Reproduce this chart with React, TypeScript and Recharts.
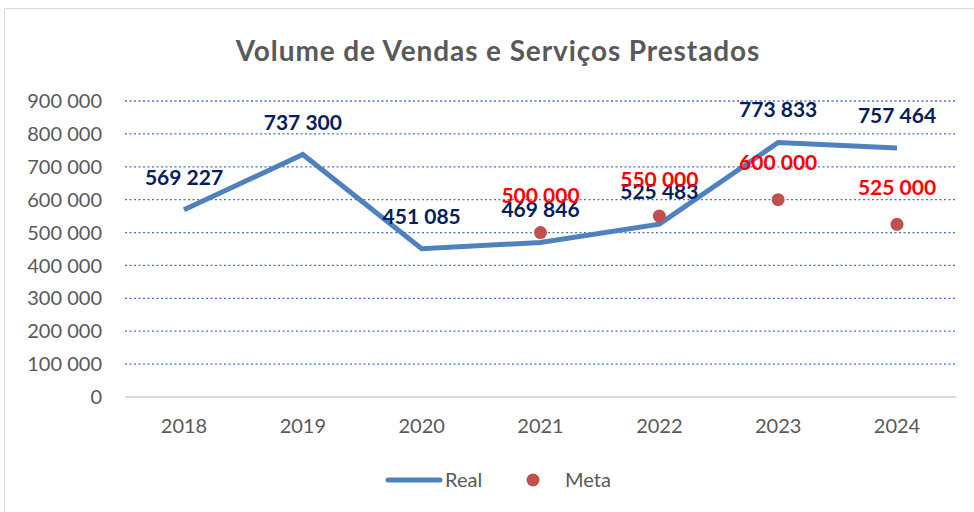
import { CartesianGrid, ComposedChart, LabelList, Line, Scatter, XAxis, YAxis } from 'recharts';

const years = ['2018', '2019', '2020', '2021', '2022', '2023', '2024'];
const real = [569227, 737300, 451085, 469846, 525483, 773833, 757464];
const meta = [null, null, null, 500000, 550000, 600000, 525000];
const yTicks = [0, 100000, 200000, 300000, 400000, 500000, 600000, 700000, 800000, 900000];

const FONT = 'Lato, "Open Sans", sans-serif';

const fmt = (v: number) => String(v).replace(/\B(?=(\d{3})+(?!\d))/g, ' ');

const chartData = years.map((year, i) => ({ year, real: real[i], meta: meta[i] }));

const dot = (props: any) => {
  const { cx, cy } = props;
  if (cx == null || cy == null) return <g />;
  return <circle cx={cx} cy={cy} r={6.5} fill="#c0504d" />;
};

// draws a value label above a point without text wrapping
const topLabel = (color: string) => (props: any) => {
  const { x, y, width, value } = props;
  if (value == null || x == null || y == null) return null;
  const cx = x + (width || 0) / 2;
  return (
    <text
      x={cx}
      y={y - 25}
      textAnchor="middle"
      fill={color}
      fontSize={21}
      fontWeight="bold"
      fontFamily={FONT}
    >
      {fmt(value)}
    </text>
  );
};

const tickStyle = { fill: '#595959', fontSize: 20, fontFamily: FONT };

export default function App() {
  return (
    <div style={{ position: 'absolute', left: 0, top: 0, width: 974, height: 512, background: '#fff', overflow: 'hidden' }}>
      <div style={{ position: 'absolute', left: 4, top: 8, width: 990, height: 520, border: '1px solid #d9d9d9', boxSizing: 'border-box' }} />
      <div
        style={{
          position: 'absolute',
          left: 0,
          top: 30,
          width: 996,
          textAlign: 'center',
          fontFamily: FONT,
          fontWeight: 'bold',
          fontSize: 28,
          letterSpacing: 0.9,
          lineHeight: '40px',
          color: '#595959',
        }}
      >
        Volume de Vendas e Serviços Prestados
      </div>
      <div style={{ position: 'absolute', left: 0, top: 0 }}>
        <ComposedChart width={974} height={512} data={chartData} margin={{ top: 101, right: 18, bottom: 85, left: 0 }}>
          <CartesianGrid vertical={false} stroke="#4472c4" strokeDasharray="2 2.5" strokeWidth={1.3} />
          <XAxis
            dataKey="year"
            padding={{ left: 59, right: 59 }}
            axisLine={{ stroke: '#d9d9d9', strokeWidth: 2 }}
            tickLine={false}
            tickSize={0}
            tickMargin={22}
            tick={tickStyle}
          />
          <YAxis
            width={125}
            domain={[0, 900000]}
            ticks={yTicks}
            interval={0}
            tickFormatter={fmt}
            axisLine={false}
            tickLine={false}
            tickSize={0}
            tickMargin={23}
            tick={tickStyle}
          />
          <Line
            dataKey="real"
            stroke="#4f81bd"
            strokeWidth={5}
            dot={false}
            activeDot={false}
            isAnimationActive={false}
          >
            <LabelList dataKey="real" content={topLabel('#002060')} />
          </Line>
          <Scatter dataKey="meta" shape={dot} isAnimationActive={false}>
            <LabelList dataKey="meta" content={topLabel('#ff0000')} />
          </Scatter>
        </ComposedChart>
      </div>
      <svg style={{ position: 'absolute', left: 0, top: 465 }} width={974} height={30}>
        <line x1={388} y1={15} x2={440} y2={15} stroke="#4f81bd" strokeWidth={5} strokeLinecap="round" />
        <text x={445} y={22} fontSize={20} fill="#595959" fontFamily={FONT}>Real</text>
        <circle cx={533} cy={15} r={6.5} fill="#c0504d" />
        <text x={565} y={22} fontSize={20} fill="#595959" fontFamily={FONT}>Meta</text>
      </svg>
    </div>
  );
}
